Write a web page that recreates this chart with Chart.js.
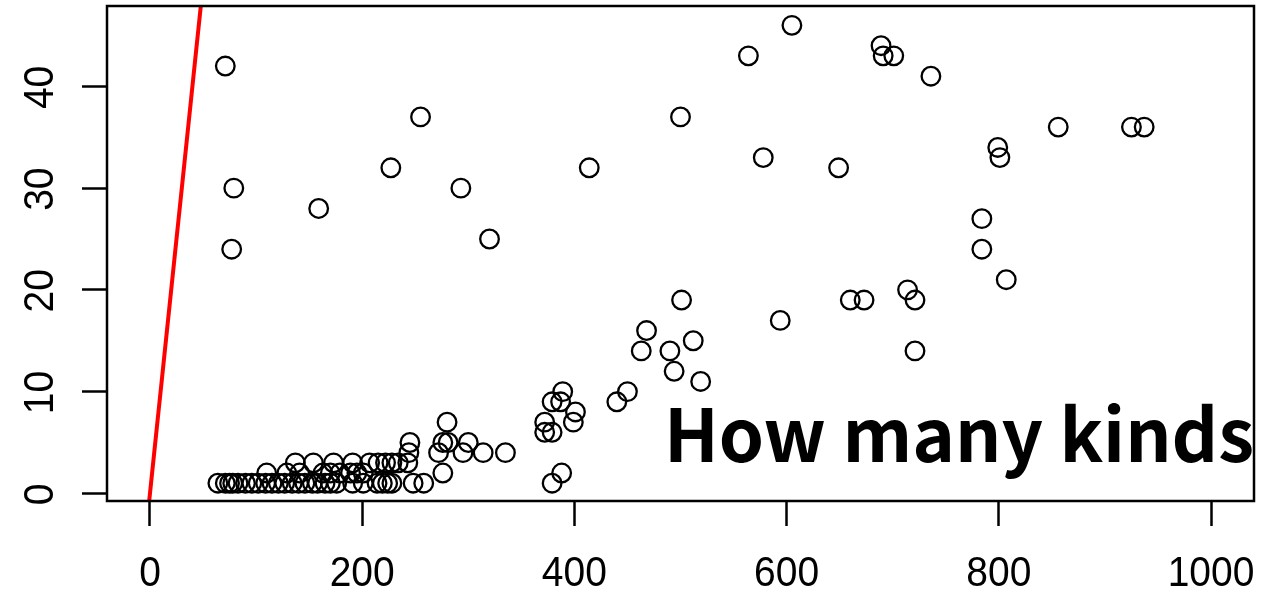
<!DOCTYPE html>
<html>
<head>
<meta charset="utf-8">
<script src="https://cdn.jsdelivr.net/npm/chart.js@4/dist/chart.umd.min.js"></script>
<style>
html,body{margin:0;padding:0;background:#fff;}
#wrap{width:1274px;height:592px;position:relative;}
</style>
</head>
<body>
<div id="wrap"><canvas id="c" width="1274" height="592"></canvas></div>
<script>
// Data
const pointX = [
  64,71,75,78,83,90,96,102,109,115,121,127,134,140,146,153,158,165,170,176,191,201,214,219,224,228,248,258,379,
  110,129,141,163,170,179,189,195,201,276,388,
  137,154,173,191,207,215,222,228,234,243,
  244,272,295,314,335,
  245,276,281,300,
  372,379,
  280,372,399,
  401,
  379,387,440,
  389,450,
  519,
  494,
  463,490,721,
  512,
  468,
  594,
  501,660,673,721,
  714,
  807,
  77,784,
  320,
  784,
  159,
  79,293,
  227,414,649,
  578,801,
  799,
  856,925,937,
  255,500,
  736,
  71,
  564,691,701,
  689,
  605
];
const pointY = [
  1,1,1,1,1,1,1,1,1,1,1,1,1,1,1,1,1,1,1,1,1,1,1,1,1,1,1,1,1,
  2,2,2,2,2,2,2,2,2,2,2,
  3,3,3,3,3,3,3,3,3,3,
  4,4,4,4,4,
  5,5,5,5,
  6,6,
  7,7,7,
  8,
  9,9,9,
  10,10,
  11,
  12,
  14,14,14,
  15,
  16,
  17,
  19,19,19,19,
  20,
  21,
  24,24,
  25,
  27,
  28,
  30,30,
  32,32,32,
  33,33,
  34,
  36,36,36,
  37,37,
  41,
  42,
  43,43,43,
  44,
  46
];
const lineX = [-5, 60];   // reference line y = x
const lineY = [-5, 60];
const xTicks = [0, 200, 400, 600, 800, 1000];
const yTicks = [0, 10, 20, 30, 40];
const annotationText = "How many kinds";

const points = pointX.map((x, i) => ({x: x, y: pointY[i]}));
const linePts = lineX.map((x, i) => ({x: x, y: lineY[i]}));

const TICK_FONT = '39px "Liberation Sans", Arial, sans-serif';

function drawLabel(ctx, txt, x, y, rot) {
  ctx.save();
  ctx.translate(x, y);
  if (rot) ctx.rotate(rot);
  ctx.scale(1, 1.08);
  ctx.fillText(txt, 0, 0);
  ctx.restore();
}

const boxPlugin = {
  id: 'boxPlugin',
  afterDraw(chart) {
    const ctx = chart.ctx;
    const a = chart.chartArea;
    ctx.save();
    ctx.fillStyle = '#000';
    ctx.font = TICK_FONT;
    ctx.textAlign = 'center';
    ctx.textBaseline = 'middle';
    // y tick labels (rotated, R style)
    const ys = chart.scales.y;
    ys.ticks.forEach(t => {
      drawLabel(ctx, String(t.value), 41, ys.getPixelForValue(t.value) + 1, -Math.PI / 2);
    });
    // x tick labels
    const xs = chart.scales.x;
    xs.ticks.forEach(t => {
      drawLabel(ctx, String(t.value), xs.getPixelForValue(t.value), 574, 0);
    });
    // annotation text
    const fam = '"Noto Sans CJK JP", "Noto Sans", sans-serif';
    ctx.font = 'bold 100px ' + fam;
    const w100 = ctx.measureText(annotationText).width;
    const size = 100 * 590 / w100;
    ctx.font = 'bold ' + size.toFixed(1) + 'px ' + fam;
    ctx.textAlign = 'left';
    ctx.textBaseline = 'alphabetic';
    ctx.fillText(annotationText, 664, 462);
    // box
    ctx.strokeStyle = '#000';
    ctx.lineWidth = 2.5;
    ctx.strokeRect(a.left, a.top, a.right - a.left, a.bottom - a.top);
    ctx.restore();
  }
};

new Chart(document.getElementById('c'), {
  type: 'scatter',
  data: {
    datasets: [
      {
        type: 'line',
        data: linePts,
        borderColor: '#ff0000',
        borderWidth: 4,
        pointRadius: 0,
        fill: false,
        clip: 0
      },
      {
        data: points,
        pointRadius: 9.3,
        pointHoverRadius: 9.3,
        borderColor: '#000',
        backgroundColor: 'rgba(0,0,0,0)',
        borderWidth: 2.3,
        clip: false
      }
    ]
  },
  options: {
    responsive: false,
    animation: false,
    events: [],
    layout: {autoPadding: false, padding: {left: 0, top: 6, right: 20, bottom: 0}},
    plugins: {legend: {display: false}, tooltip: {enabled: false}},
    scales: {
      x: {
        type: 'linear',
        min: -40.5,
        max: 1040.5,
        afterBuildTicks: s => { s.ticks = xTicks.map(v => ({value: v})); },
        afterFit: s => { s.height = 91; },
        border: {display: false},
        grid: {display: true, drawOnChartArea: false, drawTicks: true, tickLength: 25, tickWidth: 2.5, tickColor: '#000'},
        ticks: {display: false}
      },
      y: {
        type: 'linear',
        min: -0.75,
        max: 47.9,
        afterBuildTicks: s => { s.ticks = yTicks.map(v => ({value: v})); },
        afterFit: s => { s.width = 107; },
        border: {display: false},
        grid: {display: true, drawOnChartArea: false, drawTicks: true, tickLength: 25, tickWidth: 2.5, tickColor: '#000'},
        ticks: {display: false}
      }
    }
  },
  plugins: [boxPlugin]
});
</script>
</body>
</html>
